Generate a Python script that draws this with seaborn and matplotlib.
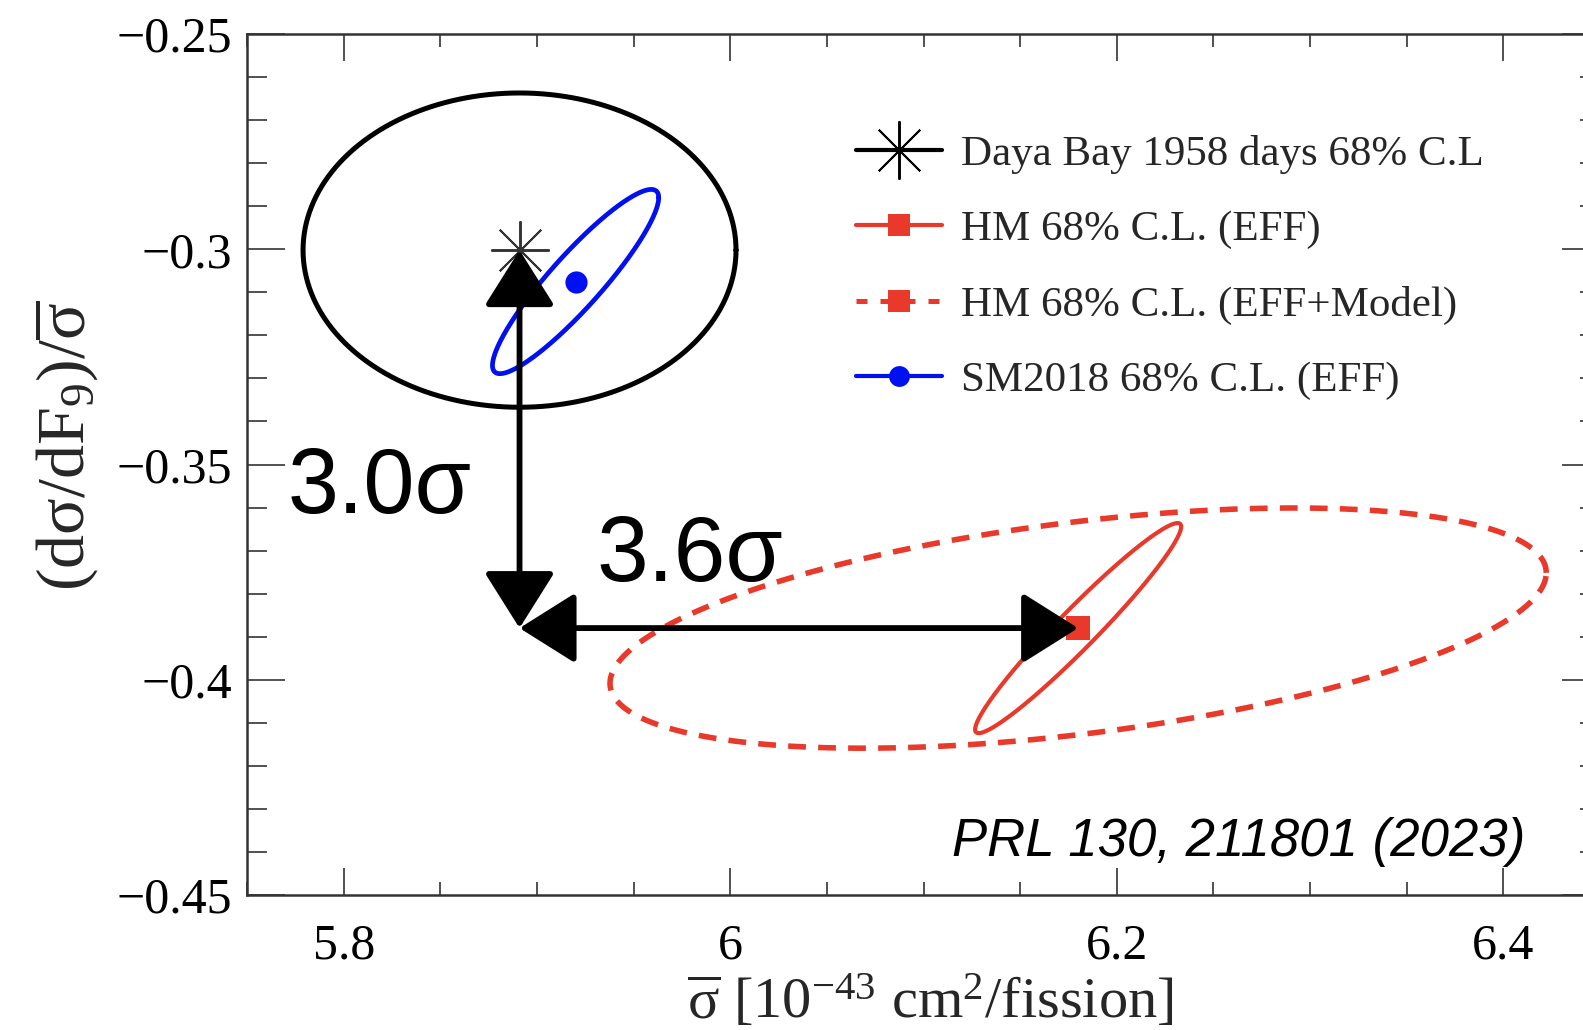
import numpy as np
import pandas as pd
import matplotlib
matplotlib.use("Agg")
import matplotlib.pyplot as plt
import seaborn as sns
from matplotlib.lines import Line2D
from matplotlib.patches import FancyArrowPatch, ArrowStyle
from matplotlib.ticker import MultipleLocator, FixedLocator, FuncFormatter

# ---- data -------------------------------------------------------------
series = ["Daya Bay 1958 days 68% C.L", "HM 68% C.L. (EFF)",
          "HM 68% C.L. (EFF+Model)", "SM2018 68% C.L. (EFF)"]
# best-fit point of each contour: sigma_bar and (dsigma/dF9)/sigma_bar
center_x = [5.891, 6.180, 6.180, 5.920]
center_y = [-0.3002, -0.3880, -0.3880, -0.3075]
# 68% C.L. contour: 1-sigma half extents and correlation coefficient
half_x = [0.1120, 0.0533, 0.2422, 0.0430]
half_y = [0.0365, 0.0244, 0.0279, 0.0214]
corr = [0.0, 0.965, 0.46, 0.91]

sig_labels = ["3.0σ", "3.6σ"]
x_ticks = [5.8, 6.0, 6.2, 6.4]
y_ticks = [-0.45, -0.40, -0.35, -0.30, -0.25]

colors = ["black", "#e8392b", "#e8392b", "#0010f0"]
styles = ["-", "-", (0, (3.2, 2.2)), "-"]
widths = [3.6, 3.0, 4.0, 3.4]

# ---- style ------------------------------------------------------------
sns.set_theme(style="ticks")
plt.rcParams["font.family"] = ["Liberation Serif", "DejaVu Serif"]
plt.rcParams["mathtext.fontset"] = "custom"
plt.rcParams["mathtext.rm"] = "Liberation Serif"
plt.rcParams["mathtext.it"] = "Liberation Serif:italic"
plt.rcParams["mathtext.bf"] = "Liberation Serif:bold"
plt.rcParams["axes.unicode_minus"] = True

W, H = 1583, 1030
fig = plt.figure(figsize=(W / 100, H / 100), dpi=100)
fig.patch.set_facecolor("white")
# axes frame in pixels: left 247, right 1600 (beyond the canvas), top 34, bottom 895
ax = fig.add_axes([247 / W, (H - 895) / H, 1353 / W, 861 / H])
ax.set_facecolor("white")


def contour(cx, cy, hx, hy, r, n=721):
    t = np.linspace(0, 2 * np.pi, n)
    x = cx + hx * np.cos(t)
    y = cy + hy * (r * np.cos(t) + np.sqrt(1 - r * r) * np.sin(t))
    return pd.DataFrame({"x": x, "y": y})


for i in range(len(series)):
    df = contour(center_x[i], center_y[i], half_x[i], half_y[i], corr[i])
    sns.lineplot(data=df, x="x", y="y", sort=False, estimator=None,
                 color=colors[i], linewidth=widths[i], linestyle=styles[i],
                 legend=False, ax=ax, zorder=3)

# best-fit markers
ax.plot(center_x[3], center_y[3], ls="none", marker="o", ms=16,
        color=colors[3], mew=0, zorder=4)
ax.plot(center_x[1], center_y[1], ls="none", marker="s", ms=17,
        color=colors[1], mew=0, zorder=4)
ax.plot(center_x[0], center_y[0], ls="none", marker=(8, 2, 0), ms=42,
        color="#333333", mew=1.4, zorder=4)

# significance arrows: Daya Bay -> HM in each direction
arrow_style = ArrowStyle("<|-|>", head_length=35, head_width=22)
corner = (center_x[0], center_y[1])
for a, b in [((center_x[0], center_y[0]), corner),
             (corner, (center_x[1], center_y[1]))]:
    arr = FancyArrowPatch(a, b, arrowstyle=arrow_style, mutation_scale=1,
                          lw=4.2, color="black", shrinkA=0, shrinkB=0,
                          zorder=5)
    ax.add_patch(arr)

ax.text(5.771, -0.3613, sig_labels[0], family="Liberation Sans",
        fontsize=66, color="black", zorder=6)
ax.text(5.9306, -0.377, sig_labels[1], family="Liberation Sans",
        fontsize=67, color="black", zorder=6)
ax.text(6.4115, -0.4409, "PRL 130, 211801 (2023)", family="Liberation Sans",
        style="italic", fontsize=38, ha="right", color="black")

# ---- axes -------------------------------------------------------------
ax.set_xlim(5.75, 6.45)
ax.set_ylim(-0.45, -0.25)
ax.xaxis.set_major_locator(FixedLocator(x_ticks))
ax.xaxis.set_minor_locator(MultipleLocator(0.05))
ax.yaxis.set_major_locator(FixedLocator(y_ticks))
ax.yaxis.set_minor_locator(MultipleLocator(0.01))
fmt = FuncFormatter(lambda v, p: f"{v:g}".replace("-", "\u2212"))
ax.xaxis.set_major_formatter(fmt)
ax.yaxis.set_major_formatter(fmt)

ax.tick_params(which="both", direction="in", top=True, right=True,
               color="#222222", labelcolor="black", labelsize=36)
ax.tick_params(axis="x", which="major", length=19.5, width=1.1, pad=20)
ax.tick_params(axis="x", which="minor", length=9.5, width=1.1)
ax.tick_params(axis="y", which="major", length=27.5, width=1.1, pad=11)
ax.tick_params(axis="y", which="minor", length=14.4, width=1.1)
for s in ax.spines.values():
    s.set_color("#333333")
    s.set_linewidth(1.8)

ax.set_xlabel(r"$\overline{\mathrm{σ}}$ [10$^{\mathrm{-43}}$ cm$^{2}$/fission]",
              fontsize=42, va="center")
ax.xaxis.set_label_coords(0.505, -0.124)
ax.set_ylabel(r"(d$\mathrm{σ}$/d$\mathrm{F}_{9}$)/$\overline{\mathrm{σ}}$",
              fontsize=49, va="center")
ax.yaxis.set_label_coords(-0.134, 0.521)

# ---- legend -----------------------------------------------------------
handles = [
    Line2D([], [], color="black", lw=3, marker=(8, 2, 0), ms=42, mew=1.4),
    Line2D([], [], color=colors[1], lw=3, marker="s", ms=16, mew=0),
    Line2D([], [], color=colors[2], lw=3.6, ls=(0, (2.2, 2.6)), marker="s",
           ms=16, mew=0),
    Line2D([], [], color=colors[3], lw=3, marker="o", ms=15, mew=0),
]
ax.legend(handles, series, loc="upper left",
          bbox_to_anchor=(856 / W, 1 - 135 / H), bbox_transform=fig.transFigure,
          frameon=False, fontsize=31, handlelength=2.0, handletextpad=0.45,
          labelspacing=0.84, borderpad=0, borderaxespad=0)

fig.savefig("out.png", dpi=100, facecolor="white")
